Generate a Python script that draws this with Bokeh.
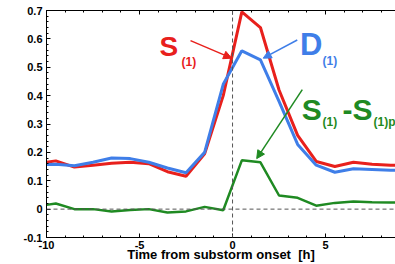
import numpy as np
from bokeh.plotting import figure
from bokeh.models import (Span, Label, Arrow, NormalHead, LinearAxis, FixedTicker,
                          Range1d, ColumnDataSource)
from bokeh.embed import file_html
from bokeh.resources import INLINE

# ---- data ----
hours = [-10, -9.5, -8.5, -7.5, -6.5, -5.5, -4.5, -3.5, -2.5, -1.5, -0.5,
         0.5, 1.5, 2.5, 3.5, 4.5, 5.5, 6.5, 7.5, 8.5, 9.5]
s1 = [0.165, 0.170, 0.148, 0.155, 0.162, 0.165, 0.160, 0.132, 0.116, 0.195, 0.400,
      0.695, 0.640, 0.420, 0.260, 0.168, 0.150, 0.165, 0.158, 0.155, 0.153]
d1 = [0.157, 0.158, 0.153, 0.165, 0.180, 0.178, 0.165, 0.145, 0.128, 0.200, 0.440,
      0.558, 0.526, 0.380, 0.228, 0.155, 0.130, 0.142, 0.140, 0.137, 0.136]
diff = [0.015, 0.020, 0.000, 0.000, -0.008, -0.003, 0.000, -0.012, -0.008, 0.008, -0.004,
        0.172, 0.165, 0.048, 0.040, 0.012, 0.022, 0.027, 0.024, 0.023, 0.023]

x_major = [-10, -5, 0, 5]
x_minor = list(range(-10, 10))
y_major = [-0.1, 0, 0.1, 0.2, 0.3, 0.4, 0.5, 0.6, 0.7]
y_minor = [round(-0.1 + 0.02 * i, 2) for i in range(41)]
y_labels = {-0.1: "-0.1", 0: "0", 0.1: "0.1", 0.2: "0.2", 0.3: "0.3", 0.4: "0.4",
            0.5: "0.5", 0.6: "0.6", 0.7: "0.7"}
x_title = "Time from substorm onset\u00a0 [h]"

RED = "#e8201c"
BLUE = "#3f7ee8"
GREEN = "#1f8a22"
FONT = "Liberation Sans"

p = figure(width=395, height=264, output_backend="svg", toolbar_location=None,
           x_range=Range1d(-10, 8.76), y_range=Range1d(-0.1, 0.7),
           x_axis_location=None, y_axis_location=None,
           min_border_left=46, min_border_right=0, min_border_top=10, min_border_bottom=25)
p.outline_line_color = None
p.xgrid.visible = False
p.ygrid.visible = False
p.background_fill_color = "white"
p.border_fill_color = "white"


def style_axis(ax):
    ax.axis_line_color = "black"
    ax.axis_line_width = 1
    ax.major_tick_in = 4
    ax.major_tick_out = 0
    ax.minor_tick_in = 2
    ax.minor_tick_out = 0
    ax.major_tick_line_color = "black"
    ax.minor_tick_line_color = "black"
    ax.major_label_text_font = FONT
    ax.major_label_text_font_style = "bold"
    ax.major_label_text_font_size = "11px"
    ax.major_label_text_color = "black"


xb = LinearAxis(ticker=FixedTicker(ticks=x_major, minor_ticks=x_minor))
style_axis(xb)
xb.major_label_standoff = 3
xb.major_label_overrides = {-10: "-10", -5: "-5", 0: "0", 5: "5"}
xb.axis_label = x_title
xb.axis_label_text_font = FONT
xb.axis_label_text_font_style = "bold"
xb.axis_label_text_font_size = "13px"
xb.axis_label_text_color = "black"
xb.axis_label_standoff = -5
p.add_layout(xb, "below")

# top edge of the box, with inward ticks and no labels
xt = LinearAxis(ticker=FixedTicker(ticks=x_major, minor_ticks=x_minor))
style_axis(xt)
xt.major_label_text_font_size = "8px"
xt.major_label_text_color = None
xt.major_label_standoff = 0
p.add_layout(xt, "above")

yl = LinearAxis(ticker=FixedTicker(ticks=y_major, minor_ticks=y_minor))
style_axis(yl)
yl.major_label_standoff = 4
yl.major_label_overrides = y_labels
p.add_layout(yl, "left")

# reference dashed lines
p.add_layout(Span(location=0, dimension="width", line_color="#555555",
                  line_dash="4 3", line_width=1))
p.add_layout(Span(location=0, dimension="height", line_color="#555555",
                  line_dash="4 3", line_width=1))

src = ColumnDataSource(dict(t=hours, s1=s1, d1=d1, diff=diff))
p.line("t", "s1", source=src, line_color=RED, line_width=3)
p.line("t", "d1", source=src, line_color=BLUE, line_width=3)
p.line("t", "diff", source=src, line_color=GREEN, line_width=2.5)

# arrows
def arrow(x0, y0, x1, y1, c):
    p.add_layout(Arrow(x_start=x0, y_start=y0, x_end=x1, y_end=y1, line_color=c, line_width=1.5,
                       end=NormalHead(size=8, fill_color=c, line_color=c)))

arrow(-2.26, 0.594, -0.05, 0.532, RED)
arrow(3.48, 0.596, 1.65, 0.532, BLUE)
arrow(3.75, 0.421, 1.3, 0.178, GREEN)


def lab(x, y, text, color, size):
    p.add_layout(Label(x=x, y=y, text=text, text_color=color, text_font=FONT,
                       text_font_style="bold", text_font_size=size,
                       text_baseline="alphabetic", text_align="left"))

lab(-3.92, 0.572, "S", RED, "28px")
lab(-2.74, 0.519, "(1)", RED, "12px")
lab(3.62, 0.579, "D", BLUE, "31px")
lab(4.84, 0.523, "(1)", BLUE, "12px")
lab(3.72, 0.351, "S", GREEN, "30px")
lab(4.84, 0.306, "(1)", GREEN, "12px")
lab(5.91, 0.351, "-S", GREEN, "30px")
lab(7.58, 0.306, "(1)p", GREEN, "12px")

open("out.html", "w").write(file_html(p, INLINE))
